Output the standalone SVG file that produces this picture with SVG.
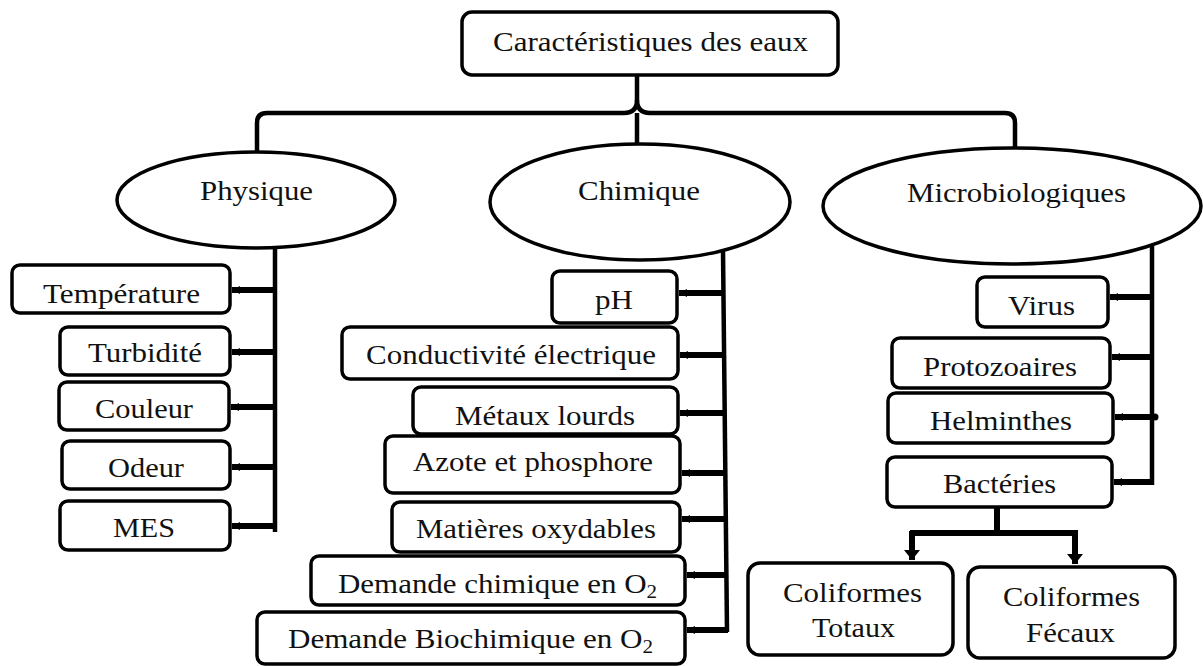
<svg xmlns="http://www.w3.org/2000/svg" width="1203" height="666" viewBox="0 0 1203 666">
<style>
.box{fill:#fff;stroke:#000;stroke-width:3.5}
.ell{fill:#fff;stroke:#000;stroke-width:3.5}
.t{font-family:"Liberation Serif","Times New Roman",serif;font-size:28px;fill:#111}
.ln{fill:none;stroke:#000;stroke-width:4.5}
.br{fill:none;stroke:#000;stroke-width:6}
</style>
<defs>
<marker id="ah" markerUnits="userSpaceOnUse" markerWidth="10" markerHeight="10" refX="8" refY="5" orient="auto">
<path d="M0,1 L8,5 L0,9 Z" fill="#000"/>
</marker>
<marker id="ad" markerUnits="userSpaceOnUse" markerWidth="18" markerHeight="18" refX="10" refY="9" orient="auto">
<path d="M0,1 L10,9 L0,17 Z" fill="#000"/>
</marker>
</defs>
<g id="connectors">
<path class="ln" d="M637,75 V100 Q637,113 624,113 H267 Q257,113 257,123 V152"/>
<path class="ln" d="M637,100 Q637,113 650,113 H1005 Q1015,113 1015,123 V149"/>
<path class="ln" d="M637,113 V145"/>
<path class="ln" d="M275,248 V532"/>
<line class="br" x1="275" y1="290" x2="232" y2="290" marker-end="url(#ah)"/>
<line class="br" x1="275" y1="352" x2="232" y2="352" marker-end="url(#ah)"/>
<line class="br" x1="275" y1="407" x2="231" y2="407" marker-end="url(#ah)"/>
<line class="br" x1="275" y1="467" x2="232" y2="467" marker-end="url(#ah)"/>
<line class="br" x1="275" y1="526" x2="232" y2="526" marker-end="url(#ah)"/>
<path class="ln" d="M723,250 L727,632"/>
<line class="br" x1="724" y1="293" x2="679" y2="293" marker-end="url(#ah)"/>
<line class="br" x1="724" y1="355" x2="680" y2="355" marker-end="url(#ah)"/>
<line class="br" x1="725" y1="413" x2="680" y2="413" marker-end="url(#ah)"/>
<line class="br" x1="726" y1="473" x2="682" y2="473" marker-end="url(#ah)"/>
<line class="br" x1="726" y1="519" x2="682" y2="519" marker-end="url(#ah)"/>
<line class="br" x1="727" y1="575" x2="687" y2="575" marker-end="url(#ah)"/>
<line class="br" x1="728" y1="630" x2="687" y2="630" marker-end="url(#ah)"/>
<path class="ln" d="M1152,245 V485"/>
<line class="br" x1="1152" y1="297" x2="1110" y2="297" marker-end="url(#ah)"/>
<line class="br" x1="1152" y1="357" x2="1112" y2="357" marker-end="url(#ah)"/>
<line class="br" x1="1156" y1="417" x2="1115" y2="417" marker-end="url(#ah)"/>
<circle cx="1155" cy="417" r="3.5" fill="#000"/>
<line class="br" x1="1152" y1="482" x2="1114" y2="482" marker-end="url(#ah)"/>
<path class="br" d="M997,507 V533"/>
<path class="br" d="M910,533 H1078"/>
<line class="br" x1="912" y1="531" x2="912" y2="560" marker-end="url(#ad)"/>
<line class="br" x1="1075" y1="531" x2="1075" y2="564" marker-end="url(#ad)"/>
</g>
<g id="n-top"><rect class="box" x="462" y="12" width="376" height="63" rx="10"/><text class="t" x="493" y="51" textLength="315" lengthAdjust="spacingAndGlyphs">Caractéristiques des eaux</text></g>
<g id="n-physique"><ellipse class="ell" cx="256" cy="200" rx="139" ry="48"/><text class="t" x="200" y="200" textLength="113" lengthAdjust="spacingAndGlyphs">Physique</text></g>
<g id="n-chimique"><ellipse class="ell" cx="640" cy="202" rx="150" ry="58"/><text class="t" x="578" y="200" textLength="122" lengthAdjust="spacingAndGlyphs">Chimique</text></g>
<g id="n-micro"><ellipse class="ell" cx="1012" cy="206" rx="189" ry="58"/><text class="t" x="907" y="202" textLength="219" lengthAdjust="spacingAndGlyphs">Microbiologiques</text></g>
<g id="n-temperature"><rect class="box" x="12" y="265" width="218" height="48" rx="8"/><text class="t" x="43" y="303" textLength="157" lengthAdjust="spacingAndGlyphs">Température</text></g>
<g id="n-turbidite"><rect class="box" x="60" y="327" width="170" height="48" rx="8"/><text class="t" x="88" y="362" textLength="114" lengthAdjust="spacingAndGlyphs">Turbidité</text></g>
<g id="n-couleur"><rect class="box" x="59" y="382" width="170" height="48" rx="8"/><text class="t" x="95" y="418" textLength="98" lengthAdjust="spacingAndGlyphs">Couleur</text></g>
<g id="n-odeur"><rect class="box" x="62" y="441" width="168" height="48" rx="8"/><text class="t" x="108" y="477" textLength="76" lengthAdjust="spacingAndGlyphs">Odeur</text></g>
<g id="n-mes"><rect class="box" x="60" y="501" width="170" height="49" rx="8"/><text class="t" x="113" y="537" textLength="62" lengthAdjust="spacingAndGlyphs">MES</text></g>
<g id="n-ph"><rect class="box" x="552" y="271" width="125" height="52" rx="8"/><text class="t" x="595" y="309" textLength="38" lengthAdjust="spacingAndGlyphs">pH</text></g>
<g id="n-conductivite"><rect class="box" x="342" y="327" width="336" height="52" rx="8"/><text class="t" x="366" y="364" textLength="290" lengthAdjust="spacingAndGlyphs">Conductivité électrique</text></g>
<g id="n-azote"><rect class="box" x="385" y="436" width="295" height="57" rx="8"/><text class="t" x="413" y="471" textLength="240" lengthAdjust="spacingAndGlyphs">Azote et phosphore</text></g>
<g id="n-metaux"><rect class="box" x="413" y="387" width="265" height="47" rx="8"/><text class="t" x="455" y="425" textLength="180" lengthAdjust="spacingAndGlyphs">Métaux lourds</text></g>
<g id="n-matieres"><rect class="box" x="392" y="502" width="288" height="50" rx="8"/><text class="t" x="416" y="538" textLength="240" lengthAdjust="spacingAndGlyphs">Matières oxydables</text></g>
<g id="n-dco"><rect class="box" x="311" y="556" width="374" height="49" rx="8"/><text class="t" x="338" y="593" textLength="319" lengthAdjust="spacingAndGlyphs">Demande chimique en O<tspan font-size="19" dy="5">2</tspan></text></g>
<g id="n-dbo"><rect class="box" x="257" y="612" width="428" height="52" rx="8"/><text class="t" x="288" y="648" textLength="365" lengthAdjust="spacingAndGlyphs">Demande Biochimique en O<tspan font-size="19" dy="5">2</tspan></text></g>
<g id="n-virus"><rect class="box" x="977" y="277" width="131" height="50" rx="8"/><text class="t" x="1008" y="315" textLength="67" lengthAdjust="spacingAndGlyphs">Virus</text></g>
<g id="n-protozoaires"><rect class="box" x="892" y="338" width="218" height="50" rx="8"/><text class="t" x="923" y="376" textLength="154" lengthAdjust="spacingAndGlyphs">Protozoaires</text></g>
<g id="n-helminthes"><rect class="box" x="888" y="393" width="225" height="50" rx="8"/><text class="t" x="930" y="430" textLength="142" lengthAdjust="spacingAndGlyphs">Helminthes</text></g>
<g id="n-bacteries"><rect class="box" x="887" y="457" width="225" height="50" rx="8"/><text class="t" x="943" y="493" textLength="113" lengthAdjust="spacingAndGlyphs">Bactéries</text></g>
<g id="n-ct"><rect class="box" x="748" y="563" width="205" height="92" rx="12"/><text class="t" x="783" y="602" textLength="139" lengthAdjust="spacingAndGlyphs">Coliformes</text><text class="t" x="812" y="637" textLength="83" lengthAdjust="spacingAndGlyphs">Totaux</text></g>
<g id="n-cf"><rect class="box" x="968" y="567" width="207" height="91" rx="12"/><text class="t" x="1003" y="606" textLength="137" lengthAdjust="spacingAndGlyphs">Coliformes</text><text class="t" x="1026" y="642" textLength="89" lengthAdjust="spacingAndGlyphs">Fécaux</text></g>
</svg>
